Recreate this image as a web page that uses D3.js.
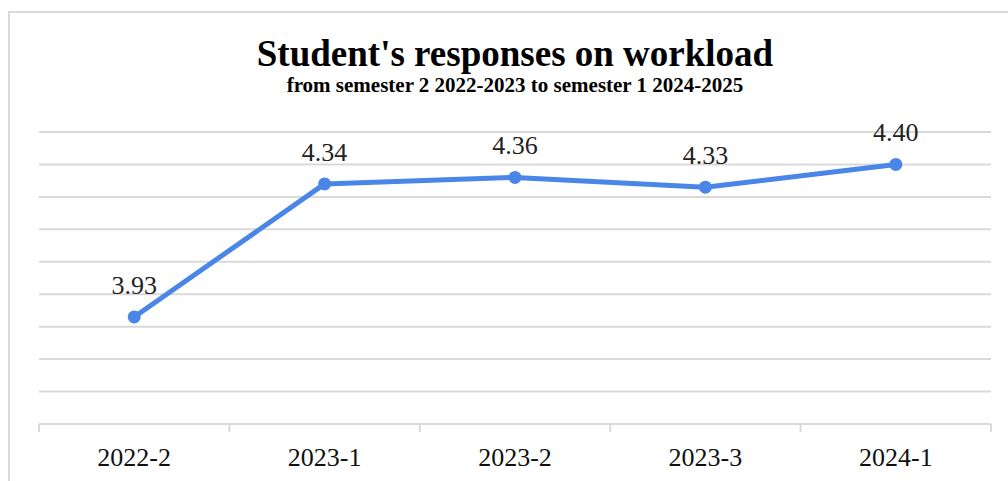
<!DOCTYPE html>
<html>
<head>
<meta charset="utf-8">
<script src="https://cdn.jsdelivr.net/npm/d3@7"></script>
<style>
  html, body { margin: 0; padding: 0; background: #fff; }
  svg { display: block; }
  svg text { font-family: "Liberation Serif", "Times New Roman", Times, serif; }
</style>
</head>
<body>
<svg id="chart" width="1008" height="481"></svg>
<script>
const categories = ["2022-2", "2023-1", "2023-2", "2023-3", "2024-1"];
const values = [3.93, 4.34, 4.36, 4.33, 4.40];
const gridTicks = [3.6, 3.7, 3.8, 3.9, 4.0, 4.1, 4.2, 4.3, 4.4, 4.5];
const titleText = "Student's responses on workload";
const subtitleText = "from semester 2 2022-2023 to semester 1 2024-2025";

const FONT = "Liberation Serif, Times New Roman, serif";
const svg = d3.select("#chart");
const W = 1008, H = 481;
const margin = { left: 39, right: 17, top: 132, bottom: 57 };

// outer border of chart box
svg.append("rect")
  .attr("x", 9).attr("y", 12)
  .attr("width", W + 20).attr("height", H + 20)
  .attr("fill", "#fff")
  .attr("stroke", "#d9d9d9")
  .attr("stroke-width", 2);

const x = d3.scaleBand()
  .domain(categories)
  .range([margin.left, W - margin.right])
  .paddingInner(0).paddingOuter(0);

const y = d3.scaleLinear()
  .domain([3.6, 4.5])
  .range([H - margin.bottom, margin.top]);

// gridlines
svg.append("g")
  .selectAll("line")
  .data(gridTicks.slice(1))
  .join("line")
  .attr("x1", margin.left).attr("x2", W - margin.right)
  .attr("y1", d => y(d)).attr("y2", d => y(d))
  .attr("stroke", "#d9d9d9")
  .attr("stroke-width", 2);

// x axis
const xAxis = d3.axisBottom(x).tickSize(0).tickPadding(0);
const gx = svg.append("g")
  .attr("transform", `translate(0,${y(3.6)})`)
  .call(xAxis)
  .attr("font-family", FONT)
  .attr("font-size", 26);
gx.select(".domain").remove();
gx.append("line")
  .attr("x1", margin.left).attr("x2", W - margin.right)
  .attr("y1", 0).attr("y2", 0)
  .attr("stroke", "#d9d9d9").attr("stroke-width", 2);
// boundary tick marks between categories
const boundaries = categories.map(c => x(c)).concat([x(categories[categories.length - 1]) + x.bandwidth()]);
gx.selectAll("line.bt")
  .data(boundaries)
  .join("line")
  .attr("class", "bt")
  .attr("x1", d => d).attr("x2", d => d)
  .attr("y1", 0).attr("y2", 8)
  .attr("stroke", "#d9d9d9").attr("stroke-width", 2);
gx.selectAll(".tick text")
  .attr("y", 42)
  .attr("dy", 0)
  .attr("fill", "#111")
  .attr("font-family", FONT)
  .attr("font-size", 26);

// line
const cx = c => x(c) + x.bandwidth() / 2;
const line = d3.line()
  .x((d, i) => cx(categories[i]))
  .y(d => y(d));

svg.append("path")
  .datum(values)
  .attr("d", line)
  .attr("fill", "none")
  .attr("stroke", "#4a86e8")
  .attr("stroke-width", 5)
  .attr("stroke-linejoin", "round")
  .attr("stroke-linecap", "round");

svg.append("g")
  .selectAll("circle")
  .data(values)
  .join("circle")
  .attr("cx", (d, i) => cx(categories[i]))
  .attr("cy", d => y(d))
  .attr("r", 6.5)
  .attr("fill", "#4a86e8");

// data labels
svg.append("g")
  .selectAll("text")
  .data(values)
  .join("text")
  .attr("x", (d, i) => cx(categories[i]))
  .attr("y", d => y(d) - 23)
  .attr("text-anchor", "middle")
  .attr("fill", "#222")
  .attr("font-family", FONT)
  .attr("font-size", 26)
  .text(d => d3.format(".2f")(d));

// titles
const midX = (margin.left + W - margin.right) / 2;
svg.append("text")
  .attr("x", midX).attr("y", 66)
  .attr("text-anchor", "middle")
  .attr("font-family", FONT)
  .attr("font-weight", "bold")
  .attr("font-size", 37)
  .attr("fill", "#000")
  .text(titleText);

svg.append("text")
  .attr("x", midX).attr("y", 92)
  .attr("text-anchor", "middle")
  .attr("font-family", FONT)
  .attr("font-weight", "bold")
  .attr("font-size", 21)
  .attr("fill", "#000")
  .text(subtitleText);
</script>
</body>
</html>
